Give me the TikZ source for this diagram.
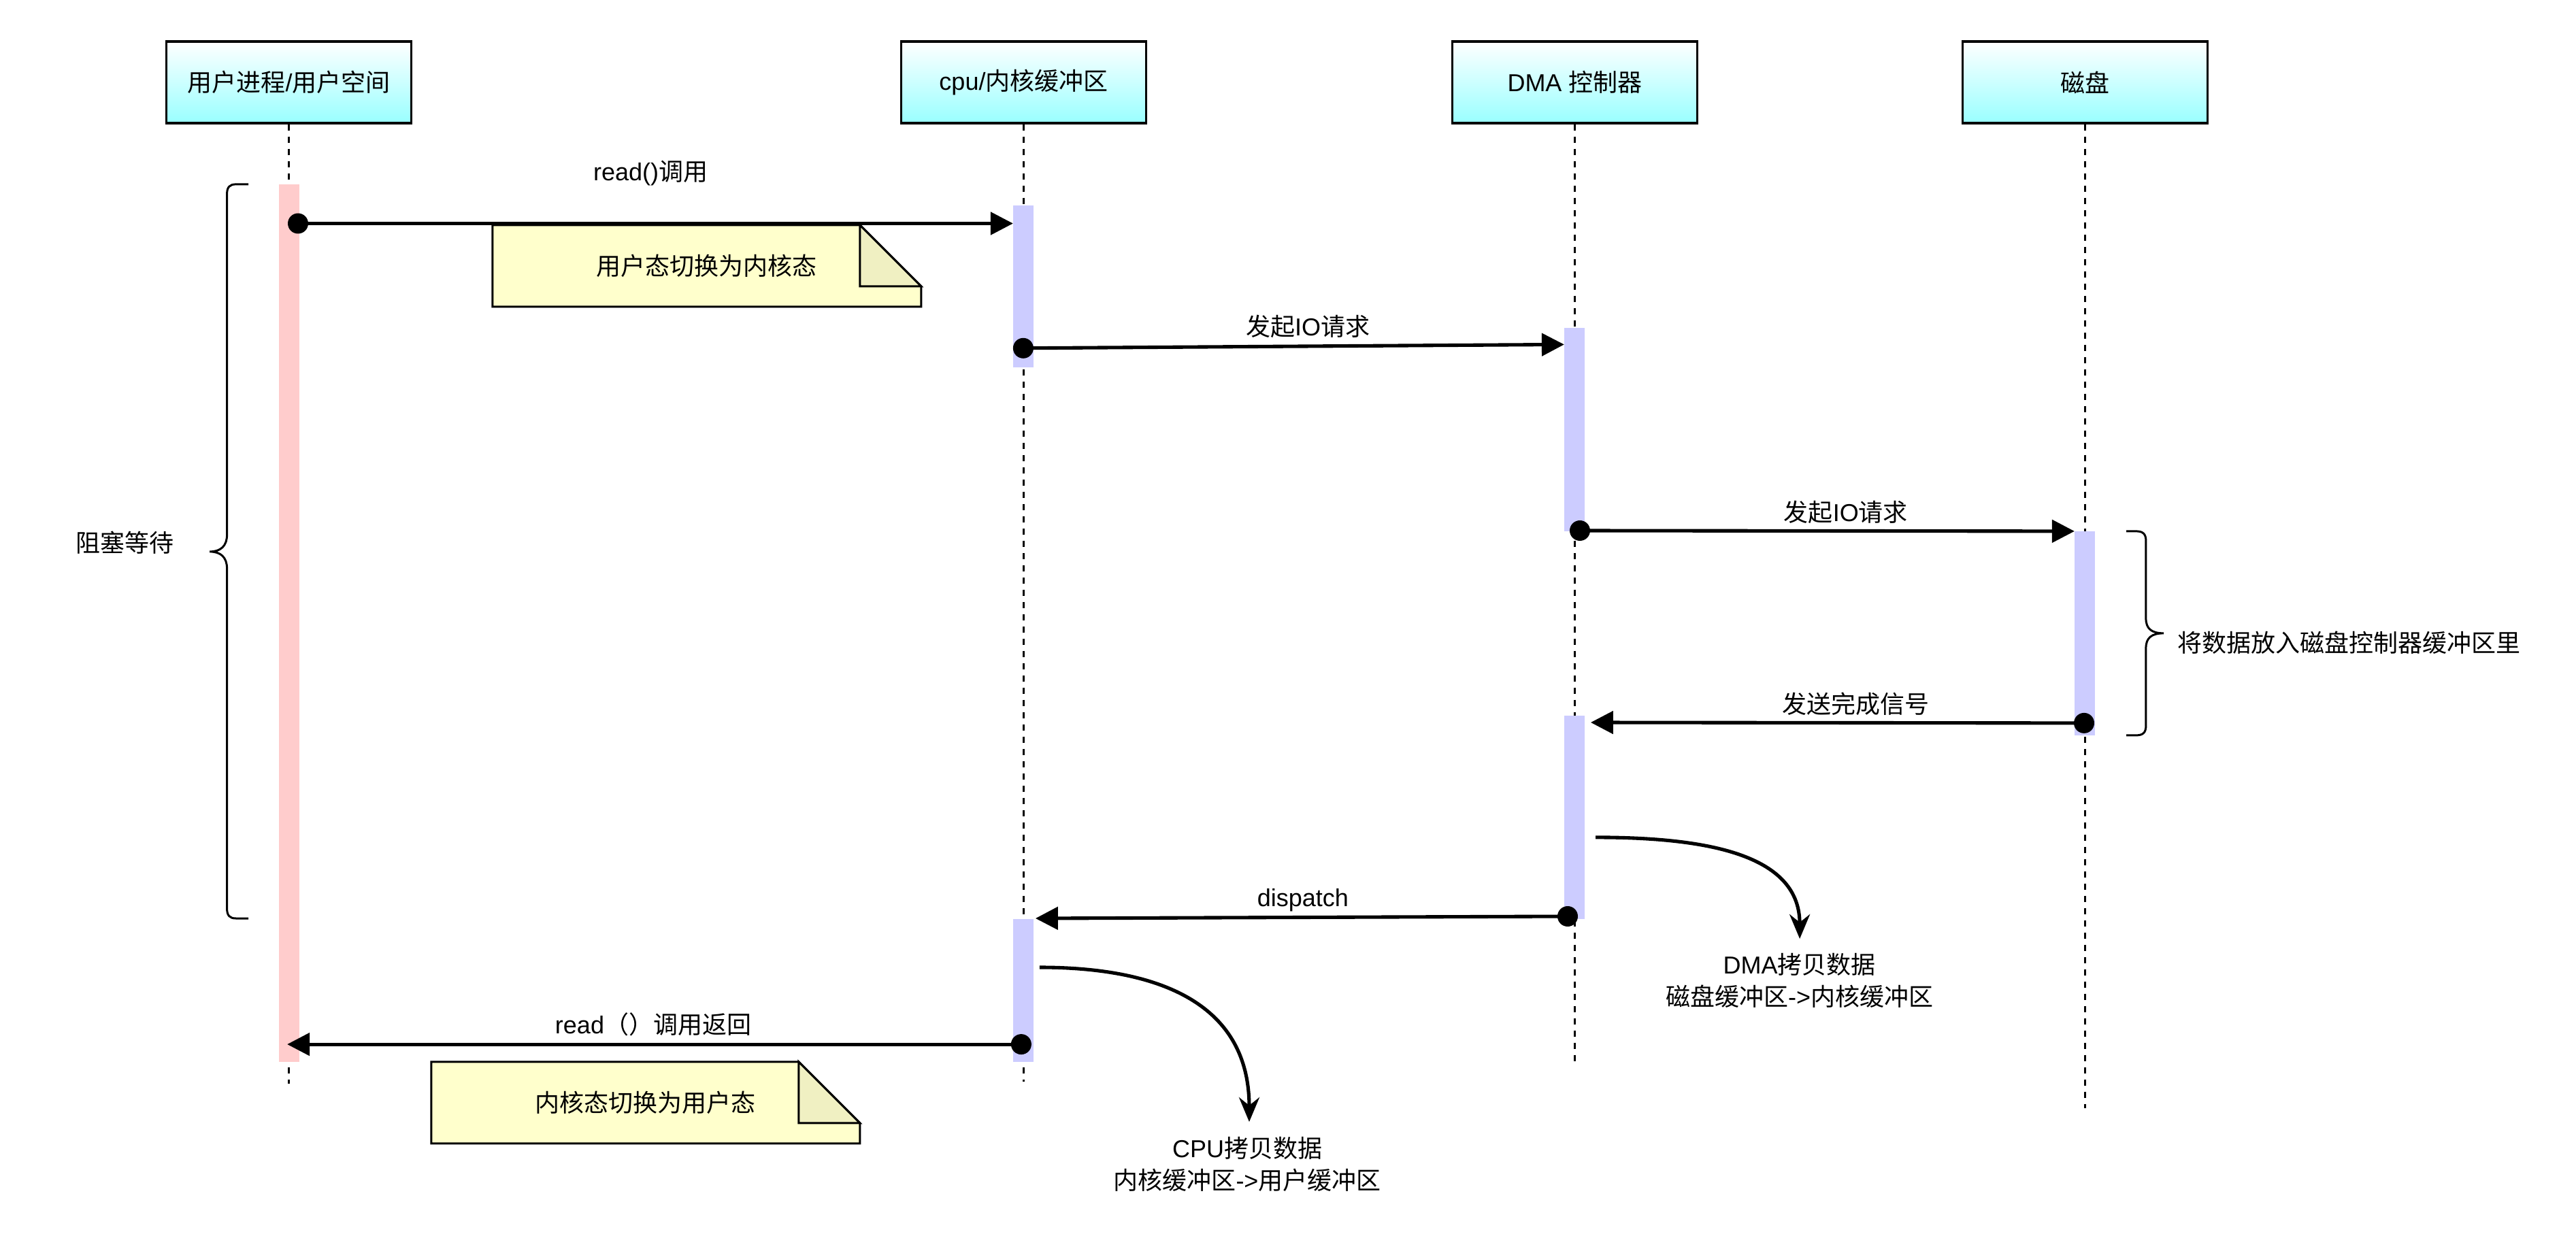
\documentclass[tikz,border=0pt]{standalone}
\usepackage{fontspec}
\setmainfont{Liberation Sans}
\newfontfamily\cjkfont{Noto Sans CJK SC}
\newcommand{\zh}[1]{{\cjkfont #1}}
\usetikzlibrary{arrows.meta}
\definecolor{boxcyan}{HTML}{99FFFF}
\definecolor{barblue}{HTML}{CCCCFF}
\definecolor{barpink}{HTML}{FFCCCC}
\definecolor{notefill}{HTML}{FFFFCC}
\definecolor{notefold}{HTML}{F0F0C2}
\begin{document}
\begin{tikzpicture}[x=1pt,y=-1pt,
  every node/.style={font=\fontsize{12}{15.5}\selectfont, inner sep=0pt},
  lbox/.style={draw, line width=1.1pt, minimum width=120pt, minimum height=40pt,
    top color=white, bottom color=boxcyan},
  lifeline/.style={line width=1pt, dash pattern=on 3pt off 3pt},
  pinkbar/.style={fill=barpink},
  bluebar/.style={fill=barblue},
  msg/.style={line width=1.7pt, -{Triangle[length=11pt,width=11pt]}},
  curv/.style={line width=1.7pt, -{Stealth[length=12pt,width=10pt,inset=4pt]}},
  dot/.style={circle, fill=black, minimum size=10pt, inner sep=0pt},
  notebody/.style={fill=notefill, draw, line width=1pt, line join=miter},
  notecorner/.style={fill=notefold, draw, line width=1pt},
  brace/.style={line width=1pt},
]
\useasboundingbox (0,0) rectangle (1262,612);
\fill[white] (0,0) rectangle (1262,612);

% lifeline heads
\node[lbox] (b1) at (141.5,40.3) {\zh{用户进程}/\zh{用户空间}};
\node[lbox] (b2) at (501.5,40.3) {cpu/\zh{内核缓冲区}};
\node[lbox] (b3) at (771.5,40.3) {DMA \zh{控制器}};
\node[lbox] (b4) at (1021.5,40.3) {\zh{磁盘}};

% lifelines
\coordinate (e1) at (141.5,531);
\coordinate (e2) at (501.5,530);
\coordinate (e3) at (771.5,520);
\coordinate (e4) at (1021.5,543);
\draw[lifeline] (b1.south) -- (e1);
\draw[lifeline] (b2.south) -- (e2);
\draw[lifeline] (b3.south) -- (e3);
\draw[lifeline] (b4.south) -- (e4);

% activation bars
\fill[pinkbar] (136.5,90.3) rectangle (146.5,520.3);
\fill[bluebar] (496.3,100.7) rectangle (506.3,180);
\fill[bluebar] (766.3,160.7) rectangle (776.3,260.3);
\fill[bluebar] (1016.3,260.3) rectangle (1026.3,360.3);
\fill[bluebar] (766.3,350.7) rectangle (776.3,450.3);
\fill[bluebar] (496.3,450.3) rectangle (506.3,520.3);

% notes
\path[notebody] (241.3,110.3) -- (421.3,110.3) -- (451.3,140.3) -- (451.3,150.3) -- (241.3,150.3) -- cycle;
\path[notecorner] (421.3,110.3) -- (421.3,140.3) -- (451.3,140.3) -- cycle;
\node (n1) at (346.3,130.3) {\zh{用户态切换为内核态}};
\path[notebody] (211.3,520.3) -- (391.3,520.3) -- (421.3,550.3) -- (421.3,560.3) -- (211.3,560.3) -- cycle;
\path[notecorner] (391.3,520.3) -- (391.3,550.3) -- (421.3,550.3) -- cycle;
\node (n2) at (316.3,540.3) {\zh{内核态切换为用户态}};

% messages
\node[dot] (d1) at (146,109.5) {};
\coordinate (t1) at (496.3,109.5);
\draw[msg] (d1.center) -- (t1);
\node (l1) at (318.7,85) {read()\zh{调用}};

\node[dot] (d2) at (501.3,170.6) {};
\coordinate (t2) at (766.3,168.8);
\draw[msg] (d2.center) -- (t2);
\node (l2) at (640.7,160) {\zh{发起}IO\zh{请求}};

\node[dot] (d3) at (774,260) {};
\coordinate (t3) at (1016.3,260.3);
\draw[msg] (d3.center) -- (t3);
\node (l3) at (904.3,251) {\zh{发起}IO\zh{请求}};

\node[dot] (d4) at (1021,354.3) {};
\coordinate (t4) at (779.3,354);
\draw[msg] (d4.center) -- (t4);
\node (l4) at (909,345) {\zh{发送完成信号}};

\node[dot] (d5) at (768,449) {};
\coordinate (t5) at (507.3,450);
\draw[msg] (d5.center) -- (t5);
\node (l5) at (638.3,441) {dispatch};

\node[dot] (d6) at (500.3,511.7) {};
\coordinate (t6) at (140.7,511.7);
\draw[msg] (d6.center) -- (t6);
\node (l6) at (320,502) {read\zh{（）调用返回}};

% self-activity curves
\coordinate (c1s) at (781.7,410.3);
\coordinate (c1e) at (881.7,460);
\draw[curv] (c1s) .. controls (840,410.3) and (881.7,420) .. (c1e);
\node[align=center] (cl1) at (881.5,480.5) {DMA\zh{拷贝数据}\\\zh{磁盘缓冲区}->\zh{内核缓冲区}};

\coordinate (c2s) at (509.3,474);
\coordinate (c2e) at (612,549.7);
\draw[curv] (c2s) .. controls (565,474) and (612,490) .. (c2e);
\node[align=center] (cl2) at (611,570.5) {CPU\zh{拷贝数据}\\\zh{内核缓冲区}->\zh{用户缓冲区}};

% braces
\draw[brace] (121.7,90.3) -- (115.5,90.3) .. controls (112.6,90.3) and (111.2,91.7) .. (111.2,95)
  -- (111.2,262) .. controls (111.2,267.5) and (108.2,270.3) .. (102.7,270.3)
  .. controls (108.2,270.3) and (111.2,273.1) .. (111.2,278.6)
  -- (111.2,445.3) .. controls (111.2,448.6) and (112.6,450) .. (115.5,450) -- (121.7,450);
\node (bl) at (61,266) {\zh{阻塞等待}};

\draw[brace] (1041.7,260.3) -- (1046.5,260.3) .. controls (1049.9,260.3) and (1051.3,261.7) .. (1051.3,265)
  -- (1051.3,303) .. controls (1051.3,308) and (1054,310.3) .. (1060,310.3)
  .. controls (1054,310.3) and (1051.3,312.6) .. (1051.3,317.6)
  -- (1051.3,355.6) .. controls (1051.3,358.9) and (1049.9,360.3) .. (1046.5,360.3) -- (1041.7,360.3);
\node[anchor=west] (br) at (1066.7,315) {\zh{将数据放入磁盘控制器缓冲区里}};
\end{tikzpicture}
\end{document}
